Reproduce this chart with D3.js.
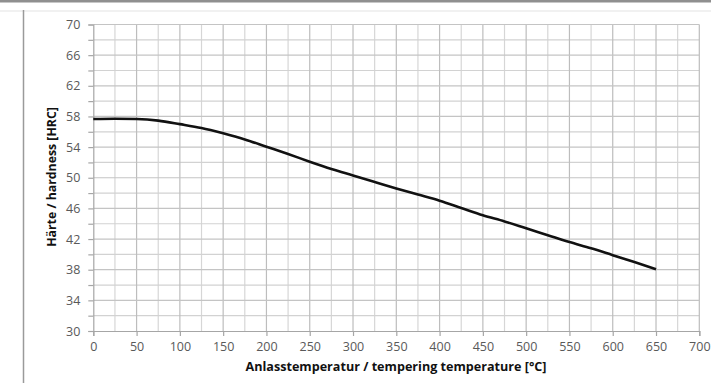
<!DOCTYPE html>
<html>
<head>
<meta charset="utf-8">
<script src="https://cdn.jsdelivr.net/npm/d3@7"></script>
<style>
  html, body { margin: 0; padding: 0; background: #fff; }
  svg { display: block; }
  text { font-family: "Open Sans", "Noto Sans", sans-serif; }
</style>
</head>
<body>
<svg id="chart" width="711" height="383"></svg>
<script>
// Data (tempering temperature °C vs hardness HRC)
const temperatures = [0, 25, 50, 75, 100, 125, 150, 175, 200, 225, 250, 275, 300, 325, 350, 375, 400, 425, 450, 475, 500, 525, 550, 575, 600, 625, 650];
const hardness = [57.66, 57.7, 57.66, 57.45, 57.0, 56.5, 55.8, 55.0, 54.05, 53.1, 52.1, 51.15, 50.3, 49.45, 48.6, 47.8, 47.0, 46.05, 45.1, 44.3, 43.4, 42.5, 41.6, 40.8, 39.9, 39.0, 38.05];
const xTicks = [0, 50, 100, 150, 200, 250, 300, 350, 400, 450, 500, 550, 600, 650, 700];
const yTicks = [30, 34, 38, 42, 46, 50, 54, 58, 62, 66, 70];
const xMinor = d3.range(25, 700, 50);
const yMinor = d3.range(32, 70, 4);
const xTitle = "Anlasstemperatur / tempering temperature [°C]";
const yTitle = "Härte / hardness [HRC]";

const svg = d3.select("#chart");
const W = 711, H = 383;

// frame decorations
svg.append("rect").attr("x", 0).attr("y", 0).attr("width", W).attr("height", 2.5).attr("fill", "#8f8f8f");
svg.append("line").attr("x1", 0).attr("x2", W).attr("y1", 11).attr("y2", 11).attr("stroke", "#ececec").attr("stroke-width", 1.5);
svg.append("line").attr("x1", 23.5).attr("x2", 23.5).attr("y1", 10).attr("y2", H).attr("stroke", "#9a9a9a").attr("stroke-width", 1.5);

const x = d3.scaleLinear().domain([0, 700]).range([93.3, 699.3]);
const y = d3.scaleLinear().domain([30, 70]).range([331, 24.5]);

const grid = svg.append("g");
// minor grid
grid.selectAll(".xm").data(xMinor).join("line")
  .attr("x1", d => x(d)).attr("x2", d => x(d)).attr("y1", y(70)).attr("y2", y(30))
  .attr("stroke", "#d6d6d6").attr("stroke-width", 1.2);
grid.selectAll(".ym").data(yMinor).join("line")
  .attr("x1", x(0)).attr("x2", x(700)).attr("y1", d => y(d)).attr("y2", d => y(d))
  .attr("stroke", "#d2d2d2").attr("stroke-width", 1.2);
// major grid
grid.selectAll(".xg").data(xTicks.slice(1)).join("line")
  .attr("x1", d => x(d)).attr("x2", d => x(d)).attr("y1", y(70)).attr("y2", y(30))
  .attr("stroke", "#bdbdbd").attr("stroke-width", 1.2);
grid.selectAll(".yg").data(yTicks.slice(1)).join("line")
  .attr("x1", x(0)).attr("x2", x(700)).attr("y1", d => y(d)).attr("y2", d => y(d))
  .attr("stroke", "#c4c4c4").attr("stroke-width", 1.2);

// axes
const xAxis = svg.append("g").attr("transform", `translate(0,${y(30)})`)
  .call(d3.axisBottom(x).tickValues(xTicks).tickSize(5).tickPadding(6).tickFormat(d3.format("d")));
const yAxis = svg.append("g").attr("transform", `translate(${x(0)},0)`)
  .call(d3.axisLeft(y).tickValues(d3.range(30, 71, 2)).tickSize(5).tickPadding(8)
    .tickFormat(d => yTicks.includes(d) ? d : ""));
[xAxis, yAxis].forEach(a => {
  a.select(".domain").attr("stroke", "#a6a6a6").attr("stroke-width", 1.2);
  a.selectAll(".tick line").attr("stroke", "#a6a6a6").attr("stroke-width", 1.2);
  a.selectAll("text").attr("fill", "#595959").style("font-size", "12.5px")
    .style("font-family", "'Open Sans', sans-serif");
});

// curve
const line = d3.line().x((d, i) => x(temperatures[i])).y(d => y(d)).curve(d3.curveMonotoneX);
svg.append("path").datum(hardness).attr("d", line)
  .attr("fill", "none").attr("stroke", "#111").attr("stroke-width", 2.6)
  .attr("stroke-linejoin", "round");

// titles
svg.append("text").attr("x", 396).attr("y", 371).attr("text-anchor", "middle")
  .style("font-size", "12.6px").style("font-weight", "bold").attr("fill", "#111").text(xTitle);
svg.append("text").attr("transform", "translate(56,177) rotate(-90)").attr("text-anchor", "middle")
  .style("font-size", "12.3px").style("font-weight", "bold").attr("fill", "#111").text(yTitle);
</script>
</body>
</html>
